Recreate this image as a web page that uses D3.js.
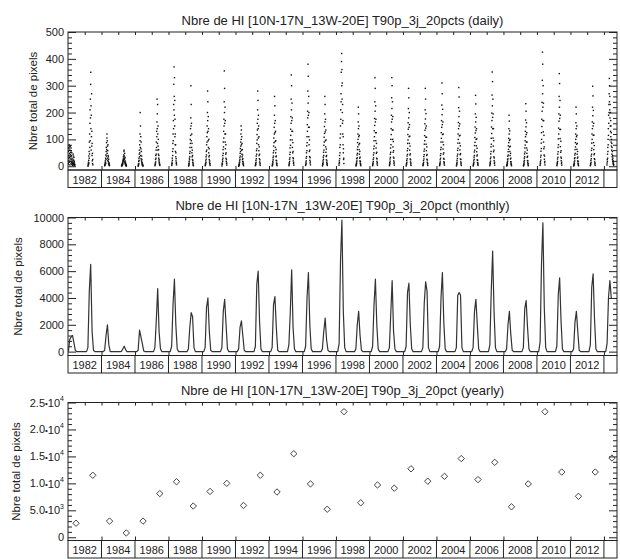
<!DOCTYPE html>
<html lang="fr">
<head>
<meta charset="UTF-8">
<title>Nbre de HI</title>
<script src="https://d3js.org/d3.v7.min.js"></script>
<style type="text/css">
    body { margin: 0; background: #fff; }
    svg { font-family: "Liberation Sans", Arial, sans-serif; }
    .axis text { font-size: 11px; fill: #222; }
    .axis line, .axis path { stroke: #222; }
    .frame { fill: none; stroke: #222; stroke-width: 1px; }
    .title { font-size: 13px; fill: #222; }
    .ylabel { font-size: 11.5px; fill: #222; }
    .box-label { font-size: 11px; fill: #222; }
    .monthly { fill: none; stroke: #333; stroke-width: 1.2px; stroke-linejoin: round; }
    .yearly { fill: none; stroke: #444; stroke-width: 1px; }
    .daily { fill: #111; }
</style>
</head>
<body>
<script type="text/javascript">
    // ---- data ----
    const years = d3.range(1981, 2014);

    // daily pixel counts: one value every 3 days from dailyStart (day of year)
    const dailyStart = [100, 170, 168, 172, 168, 170, 170, 172, 170, 170, 170, 168, 170, 170, 168, 170, 166,
        170, 168, 170, 170, 170, 168, 170, 170, 168, 170, 170, 168, 170, 170, 168, 165];
    const dailyValues = [
        "12,30,55,8,70,40,22,65,80,15,48,33,72,5,60,28,44,75,18,52,36,10,68,25,58,40,14,50,6,30,20,9,16,4,11,3,26,45,12,38,7,22,15,33,9,18,5,12,3,6",
        "0,4,9,15,6,22,38,12,55,30,90,46,120,70,160,210,95,250,180,305,350,140,225,60,190,110,270,75,130,40,85,20,48,10,25,5",
        "2,6,3,12,8,20,15,30,10,42,25,55,70,38,88,62,105,120,48,95,75,30,58,22,80,40,18,35,12,26,8,14,5,9,2,4",
        "1,3,2,6,4,9,5,14,8,20,12,26,18,35,22,42,30,55,60,25,38,16,48,28,12,33,20,8,15,5,10,3,6,2,4,1",
        "0,3,8,5,18,10,30,22,45,60,35,80,50,120,95,200,70,150,40,110,65,28,90,55,20,38,15,25,9,14,5,8,3,6,2,1",
        "2,6,12,8,25,16,40,30,60,45,90,70,130,110,165,250,140,195,85,230,120,60,150,75,100,45,62,30,40,20,25,12,15,6,8,3",
        "3,8,15,10,30,22,55,40,85,65,120,95,170,140,230,305,210,370,260,190,330,150,245,110,175,80,120,55,80,35,50,20,28,10,14,5",
        "1,4,10,6,18,12,30,24,48,36,70,55,100,85,140,115,180,300,150,230,95,160,70,120,50,85,35,60,25,40,15,22,8,12,4,2",
        "2,5,10,8,20,14,35,26,55,42,80,60,110,90,150,125,200,280,170,240,130,95,185,70,140,50,100,35,65,25,40,15,20,8,10,3",
        "1,6,12,9,24,18,40,30,62,48,90,72,130,105,175,150,240,355,200,290,160,120,220,90,170,65,120,45,80,30,50,18,25,10,12,4",
        "0,3,6,4,12,8,20,15,32,25,48,38,66,55,90,75,120,150,100,135,80,60,110,45,85,35,62,25,42,18,28,10,15,6,8,2",
        "2,5,11,7,22,15,38,28,58,45,85,65,118,98,160,135,210,280,175,245,140,105,190,80,150,58,110,40,72,28,45,16,24,8,12,3",
        "1,4,9,6,18,13,32,24,50,38,75,58,105,88,145,120,190,260,160,225,125,92,170,70,130,50,95,35,62,22,38,12,20,6,10,2",
        "2,6,13,9,26,18,44,32,68,52,98,78,138,115,185,160,250,340,210,300,170,130,235,98,180,70,130,50,88,32,55,20,28,10,14,4",
        "3,7,15,10,30,20,50,36,76,58,110,88,155,130,205,180,280,380,235,335,190,145,260,110,200,80,145,55,98,36,60,22,32,12,16,5",
        "1,5,10,7,20,14,34,26,52,40,78,60,108,90,148,122,195,260,165,230,128,95,175,72,135,52,98,36,64,24,40,14,20,7,10,3",
        "4,10,20,14,40,28,70,50,105,80,150,120,210,175,270,240,350,500,390,420,300,360,250,310,200,160,230,120,170,80,110,50,65,25,30,10",
        "1,4,8,6,16,11,28,20,42,32,62,48,88,72,120,100,165,220,140,195,110,80,150,62,115,45,85,30,55,20,34,12,18,6,9,2",
        "2,6,12,9,25,17,42,31,65,50,95,75,132,110,178,152,240,330,205,290,165,125,225,95,175,68,125,48,85,30,52,18,27,9,13,4",
        "2,7,14,10,27,19,45,33,68,52,100,80,140,118,190,165,255,330,215,300,175,135,240,100,185,72,135,52,92,34,58,20,30,10,15,4",
        "1,5,11,8,22,15,38,28,58,44,85,66,118,98,162,138,215,290,180,255,145,110,200,85,155,60,112,42,75,27,46,16,24,8,12,3",
        "2,5,10,7,21,14,36,27,56,43,82,64,114,95,158,134,210,290,176,250,142,108,196,82,150,58,108,40,72,26,44,15,23,8,11,3",
        "2,6,12,9,24,16,40,30,62,47,90,70,125,104,170,145,228,310,192,270,155,118,212,90,165,64,120,45,80,29,50,17,26,9,13,4",
        "1,5,11,8,22,15,38,29,59,45,86,67,120,100,163,140,218,293,185,258,150,113,205,86,158,61,115,43,76,27,47,16,25,8,12,3",
        "1,4,10,7,20,14,34,26,53,40,77,60,107,89,146,124,195,264,165,232,133,100,182,76,140,54,102,38,67,24,42,14,22,7,11,3",
        "2,7,14,10,28,19,46,34,72,55,104,82,146,122,198,170,265,351,225,315,182,140,250,105,195,75,140,54,95,35,60,21,31,11,15,4",
        "1,3,7,5,14,10,24,18,37,28,54,42,76,63,104,88,140,190,120,168,96,72,132,55,100,40,74,27,48,17,30,10,16,5,8,2",
        "1,4,8,6,17,12,30,22,46,35,68,53,95,79,130,110,172,233,147,205,118,90,162,68,125,48,90,33,60,21,37,13,20,6,10,2",
        "3,8,17,12,34,23,56,41,86,66,125,100,175,148,238,205,320,425,270,380,220,170,300,128,235,90,170,65,115,42,72,26,38,13,18,5",
        "2,7,14,10,27,18,45,33,70,54,102,80,142,120,195,168,260,345,220,308,178,137,245,103,190,73,137,52,93,34,58,21,30,10,15,4",
        "1,4,8,6,16,11,28,20,42,32,62,48,88,72,120,100,162,220,140,195,110,82,150,63,115,45,85,30,55,20,34,12,18,6,9,2",
        "2,5,11,8,22,15,38,28,59,45,86,67,120,100,165,140,220,298,188,262,150,115,208,88,160,62,116,43,77,28,47,16,25,8,12,3",
        "5,12,25,18,45,30,70,55,100,80,140,115,190,160,230,200,270,327,240,300,210,260,180,230,150,200,130,170,110,150,90,125,75,100,60,85,45,70,35,55,25,40,18,30,12,20,8,12,4,6"
    ];

    // monthly pixel counts, May..Nov of each year (other months are 0)
    const seasonMonths = [4, 5, 6, 7, 8, 9, 10];
    const monthlyValues = [
        [900, 1100, 1200, 650, 100, 0, 0],
        [0, 300, 4500, 6500, 1500, 100, 0],
        [0, 100, 1200, 2000, 500, 0, 0],
        [0, 20, 200, 400, 150, 0, 0],
        [0, 100, 1600, 1100, 600, 50, 0],
        [0, 300, 2300, 4700, 1500, 200, 0],
        [0, 400, 3500, 5400, 2000, 200, 0],
        [0, 200, 1800, 2900, 2600, 300, 0],
        [0, 300, 3300, 4000, 1500, 100, 0],
        [0, 300, 3000, 3900, 2000, 200, 0],
        [0, 200, 1800, 2300, 1200, 100, 0],
        [0, 400, 5000, 6000, 2200, 200, 0],
        [0, 300, 3500, 4100, 1800, 100, 0],
        [0, 500, 2900, 6100, 1800, 200, 0],
        [0, 400, 4000, 5900, 2000, 200, 0],
        [0, 200, 1500, 2500, 900, 100, 0],
        [0, 600, 6800, 9800, 3000, 300, 0],
        [0, 200, 2000, 3000, 1200, 100, 0],
        [0, 400, 3500, 5400, 2000, 200, 0],
        [0, 300, 2800, 5300, 1500, 200, 0],
        [0, 400, 4400, 5100, 2000, 200, 0],
        [0, 300, 3600, 5200, 4500, 300, 0],
        [0, 400, 4000, 5900, 2200, 200, 0],
        [0, 300, 4200, 4400, 4200, 300, 0],
        [0, 300, 3000, 3900, 2000, 200, 0],
        [0, 500, 4500, 7500, 3000, 300, 0],
        [0, 200, 2000, 3000, 1300, 100, 0],
        [0, 300, 3200, 3800, 1800, 200, 0],
        [0, 700, 6500, 9600, 3300, 300, 0],
        [0, 400, 4200, 5500, 2300, 200, 0],
        [0, 200, 2200, 3000, 1500, 100, 0],
        [0, 500, 4800, 5800, 2400, 200, 0],
        [0, 600, 4000, 5300, 4000, null, null]
    ];

    // yearly totals
    const yearlyValues = [2600, 11500, 3000, 800, 3000, 8100, 10300, 5800, 8500, 10000, 5900,
        11500, 8400, 15500, 9900, 5200, 23300, 6400, 9700, 9100, 12700, 10400, 11300,
        14600, 10700, 13900, 5650, 9900, 23300, 12100, 7600, 12100, 14700];

    const boxLabels = ["1982", "1984", "1986", "1988", "1990", "1992", "1994", "1996",
        "1998", "2000", "2002", "2004", "2006", "2008", "2010", "2012", ""];

    const titles = [
        "Nbre de HI [10N-17N_13W-20E] T90p_3j_20pcts (daily)",
        "Nbre de HI [10N-17N_13W-20E] T90p_3j_20pct (monthly)",
        "Nbre de HI [10N-17N_13W-20E] T90p_3j_20pct (yearly)"
    ];
    const yTicks = [
        [0, 100, 200, 300, 400, 500],
        [0, 2000, 4000, 6000, 8000, 10000],
        [0, 5000, 10000, 15000, 20000, 25000]
    ];
    const yMin = [-14, -290, -600];
    const yMinorStep = [20, 400, 1000];

    // ---- layout ----
    const width = 620;
    const height = 559;
    const left = 68, right = 617;
    const tops = [32, 217.5, 402.5];
    const plotH = 138;
    const boxH = 17.5;
    const ylabelX = [33, 18, 16];
    const xStart = 1981.27, xEnd = 2014.05;

    const svg = d3.select("body")
        .append("svg")
        .attr("width", width)
        .attr("height", height);

    const x = d3.scaleLinear().domain([xStart, xEnd]).range([left, right]);
    const boxEdges = d3.range(0, 17).map(k => xStart + 2 * k);
    const yearTicks = d3.range(1, 33).map(k => xStart + k);

    function sciFormat(sel) {
        sel.each(function (d) {
            const t = d3.select(this).text(null);
            if (d === 0) { t.text("0"); return; }
            const e = Math.floor(Math.log10(d));
            const m = (d / Math.pow(10, e)).toFixed(1);
            t.append("tspan").text(m);
            t.append("tspan").attr("font-size", "8px").attr("dy", "-0.05em").text("\u2022");
            t.append("tspan").attr("dy", "0.05em").text("10");
            t.append("tspan").attr("font-size", "7px").attr("dy", "-0.75em").text(e);
        });
    }

    function drawPanel(i) {
        const top = tops[i];
        const bottom = top + plotH;
        const y = d3.scaleLinear().domain([yMin[i], yTicks[i][5]]).range([bottom, top]);
        const minors = d3.range(0, yTicks[i][5], yMinorStep[i]).filter(v => v % (yTicks[i][1]) !== 0);
        const g = svg.append("g");

        g.append("clipPath").attr("id", "clip" + i)
            .append("rect").attr("x", left).attr("y", top).attr("width", right - left).attr("height", plotH);

        // y axes (ticks point inward)
        const yl = g.append("g").attr("class", "axis").attr("transform", `translate(${left},0)`)
            .call(d3.axisLeft(y).tickValues(yTicks[i]).tickSize(-8).tickPadding(4).tickFormat(d3.format("d")));
        if (i === 2) yl.selectAll(".tick text").call(sciFormat);
        g.append("g").attr("class", "axis").attr("transform", `translate(${left},0)`)
            .call(d3.axisLeft(y).tickValues(minors).tickSize(-4).tickFormat(""));
        g.append("g").attr("class", "axis").attr("transform", `translate(${right},0)`)
            .call(d3.axisRight(y).tickValues(yTicks[i]).tickSize(-8).tickFormat(""));
        g.append("g").attr("class", "axis").attr("transform", `translate(${right},0)`)
            .call(d3.axisRight(y).tickValues(minors).tickSize(-4).tickFormat(""));

        // x ticks on top (every year) and bottom (box edges)
        g.append("g").attr("class", "axis").attr("transform", `translate(0,${top})`)
            .call(d3.axisBottom(x).tickValues(yearTicks).tickSize(3).tickFormat(""));
        g.append("g").attr("class", "axis").attr("transform", `translate(0,${bottom})`)
            .call(d3.axisTop(x).tickValues(boxEdges.slice(1)).tickSize(4).tickFormat(""));
        g.selectAll(".axis .domain").remove();

        g.append("rect").attr("class", "frame")
            .attr("x", left).attr("y", top).attr("width", right - left).attr("height", plotH);

        // boxed year labels below the plot
        g.append("rect").attr("class", "frame")
            .attr("x", left).attr("y", bottom).attr("width", right - left).attr("height", boxH);
        g.selectAll(".sep").data(boxEdges.slice(1)).join("line")
            .attr("x1", d => x(d)).attr("x2", d => x(d))
            .attr("y1", bottom).attr("y2", bottom + boxH)
            .attr("stroke", "#222");
        g.selectAll(".box-label").data(boxLabels).join("text")
            .attr("class", "box-label")
            .attr("x", (d, k) => x(xStart + 2 * k + 1))
            .attr("y", bottom + 13.5)
            .attr("text-anchor", "middle")
            .text(d => d);

        g.append("text").attr("class", "title")
            .attr("x", (left + right) / 2).attr("y", top - 7.5)
            .attr("text-anchor", "middle")
            .text(titles[i]);

        g.append("text").attr("class", "ylabel")
            .attr("transform", `translate(${ylabelX[i]},${(top + bottom) / 2}) rotate(-90)`)
            .attr("dy", "0.35em")
            .attr("text-anchor", "middle")
            .text("Nbre total de pixels");

        return { g: g.append("g").attr("clip-path", `url(#clip${i})`), y };
    }

    // ---- daily ----
    const p1 = drawPanel(0);
    const daily = [];
    years.forEach((yr, k) => {
        dailyValues[k].split(",").forEach((v, j) => {
            const day = dailyStart[k] + 3 * j;
            daily.push({ t: yr + (day - 0.5) / 365, v: +v });
        });
    });
    p1.g.selectAll("rect").data(daily).join("rect")
        .attr("class", "daily")
        .attr("x", d => x(d.t) - 0.7)
        .attr("y", d => p1.y(d.v) - 0.7)
        .attr("width", 1.4)
        .attr("height", 1.4);

    // ---- monthly ----
    const p2 = drawPanel(1);
    const monthly = [];
    years.forEach((yr, k) => {
        for (let m = 0; m < 12; m++) {
            const s = seasonMonths.indexOf(m);
            let v = s >= 0 ? monthlyValues[k][s] : 0;
            if (m === 11 && monthlyValues[k][6] === null) v = null;
            monthly.push({ t: yr + (m + 0.5) / 12, v: v });
        }
    });
    p2.g.append("path")
        .datum(monthly.filter(d => d.v !== null))
        .attr("class", "monthly")
        .attr("d", d3.line().x(d => x(d.t)).y(d => p2.y(d.v)));

    // ---- yearly ----
    const p3 = drawPanel(2);
    const diamond = d3.symbol().type(d3.symbolDiamond2).size(26);
    p3.g.selectAll("path").data(years).join("path")
        .attr("class", "yearly")
        .attr("transform", (yr, k) => `translate(${x(yr + 0.75)},${p3.y(yearlyValues[k])})`)
        .attr("d", diamond);
</script>
</body>
</html>
